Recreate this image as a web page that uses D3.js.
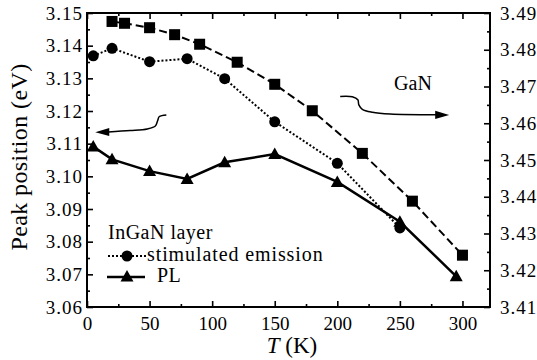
<!DOCTYPE html>
<html>
<head>
  <meta charset="UTF-8">
</head>
<body style="margin:0">
<svg></svg>
<script src="https://d3js.org/d3.v7.min.js"></script>
<script>

let width = 537, height = 360;
let serifFont = "Liberation Serif";

// GaN peak (right axis, squares)
const ganT = [20, 30, 50, 70, 90, 120, 150, 180, 220, 260, 300];
const ganE = [3.4877, 3.4872, 3.4860, 3.4841, 3.4815, 3.4766, 3.4706, 3.4634, 3.4518, 3.4388, 3.4241];

// InGaN stimulated emission (left axis, circles)
const seT = [5, 20, 50, 80, 110, 150, 200, 250];
const seE = [3.1369, 3.1392, 3.1351, 3.1360, 3.1299, 3.1167, 3.1040, 3.0842];

// InGaN PL (left axis, triangles)
const plT = [5, 20, 50, 80, 110, 150, 200, 250, 295];
const plE = [3.1091, 3.1052, 3.1016, 3.0992, 3.1043, 3.1068, 3.0983, 3.0861, 3.0694];

// ticks
const xTicks = [0, 50, 100, 150, 200, 250, 300];
const xMinor = [25, 75, 125, 175, 225, 275];
const yLeftTicks = [3.06, 3.07, 3.08, 3.09, 3.10, 3.11, 3.12, 3.13, 3.14, 3.15];
const yRightTicks = [3.41, 3.42, 3.43, 3.44, 3.45, 3.46, 3.47, 3.48, 3.49];

// annotation arrows, in data units
const leftArrowT = [63.4, 57.8, 56.4, 54.6, 48.2, 34.6, 17.0];
const leftArrowE = [3.1188, 3.1183, 3.1170, 3.1154, 3.1145, 3.1140, 3.1136];
const rightArrowT = [202.3, 212, 216.4, 217.2, 220, 228, 242.3, 279];
const rightArrowE = [3.4673, 3.4672, 3.4664, 3.4650, 3.4638, 3.4630, 3.4625, 3.4623];

let svg = d3.select("svg").attr("width", width).attr("height", height);

let x = d3.scaleLinear().domain([0, 322]).range([87, 490]);
let yL = d3.scaleLinear().domain([3.06, 3.15]).range([307, 13]);
let yR = d3.scaleLinear().domain([3.41, 3.49]).range([307, 13]);

let mid = v => v.slice(0, -1).map((d, i) => +((d + v[i + 1]) / 2).toFixed(3));

function addText(parent, str, size, spacing) {
  return parent.append("text")
    .style("font-family", serifFont)
    .style("font-size", size + "px")
    .style("letter-spacing", (spacing || 0) + "px")
    .text(str);
}

function styleAxis(g) {
  g.attr("font-family", serifFont).attr("font-size", 19);
  g.select(".domain").remove();
  g.selectAll("line").attr("stroke", "black").attr("stroke-width", 1.6);
  g.selectAll("text")
    .style("font-family", serifFont)
    .style("font-size", "19px")
    .attr("fill", "black");
}

// bottom axis
svg.append("g").attr("transform", "translate(0,307)")
  .call(d3.axisBottom(x).tickValues(xTicks).tickSize(-6).tickPadding(10).tickFormat(d3.format("d")))
  .call(styleAxis);
svg.append("g").attr("transform", "translate(0,307)")
  .call(d3.axisBottom(x).tickValues(xMinor).tickSize(-3).tickFormat(""))
  .call(styleAxis);
// top axis
svg.append("g").attr("transform", "translate(0,13)")
  .call(d3.axisTop(x).tickValues(xTicks).tickSize(-6).tickFormat(""))
  .call(styleAxis);
svg.append("g").attr("transform", "translate(0,13)")
  .call(d3.axisTop(x).tickValues(xMinor).tickSize(-3).tickFormat(""))
  .call(styleAxis);
// left axis
svg.append("g").attr("transform", "translate(87,0)")
  .call(d3.axisLeft(yL).tickValues(yLeftTicks).tickSize(-6).tickPadding(4).tickFormat(d3.format(".2f")))
  .call(styleAxis)
  .selectAll("text").style("letter-spacing", "1px");
svg.append("g").attr("transform", "translate(87,0)")
  .call(d3.axisLeft(yL).tickValues(mid(yLeftTicks)).tickSize(-3).tickFormat(""))
  .call(styleAxis);
// right axis
svg.append("g").attr("transform", "translate(490,0)")
  .call(d3.axisRight(yR).tickValues(yRightTicks).tickSize(-6).tickPadding(10).tickFormat(d3.format(".2f")))
  .call(styleAxis)
  .selectAll("text").style("letter-spacing", "1px");
svg.append("g").attr("transform", "translate(490,0)")
  .call(d3.axisRight(yR).tickValues(mid(yRightTicks)).tickSize(-3).tickFormat(""))
  .call(styleAxis);

// frame
svg.append("rect")
  .attr("x", x(0)).attr("y", yL(3.15))
  .attr("width", x(322) - x(0)).attr("height", yL(3.06) - yL(3.15))
  .attr("fill", "none").attr("stroke", "black").attr("stroke-width", 2);

// axis titles
addText(svg, "Peak position (eV)", 24, 0.4)
  .attr("transform", "translate(27,157) rotate(-90)")
  .attr("text-anchor", "middle");

let xt = addText(svg, "", 23)
  .attr("x", 292).attr("y", 353)
  .attr("text-anchor", "middle");
xt.append("tspan").style("font-style", "italic").text("T");
xt.append("tspan").text(" (K)");

// series
let ganData = ganT.map((t, i) => [t, ganE[i]]);
let seData = seT.map((t, i) => [t, seE[i]]);
let plData = plT.map((t, i) => [t, plE[i]]);

let lineR = d3.line().x(d => x(d[0])).y(d => yR(d[1]));
let lineL = d3.line().x(d => x(d[0])).y(d => yL(d[1]));

svg.append("path").datum(ganData).attr("d", lineR)
  .attr("fill", "none").attr("stroke", "black").attr("stroke-width", 2)
  .attr("stroke-dasharray", "8,4");
svg.append("path").datum(seData).attr("d", lineL)
  .attr("fill", "none").attr("stroke", "black").attr("stroke-width", 2)
  .attr("stroke-dasharray", "2,2");
svg.append("path").datum(plData).attr("d", lineL)
  .attr("fill", "none").attr("stroke", "black").attr("stroke-width", 2.5);

svg.append("g").selectAll("rect").data(ganData).enter().append("rect")
  .attr("x", d => x(d[0]) - 5.5).attr("y", d => yR(d[1]) - 5.5)
  .attr("width", 11).attr("height", 11).attr("fill", "black");

svg.append("g").selectAll("circle").data(seData).enter().append("circle")
  .attr("cx", d => x(d[0])).attr("cy", d => yL(d[1])).attr("r", 5.5).attr("fill", "black");

let tri = "M0,-6.5L6.5,5L-6.5,5Z";
svg.append("g").selectAll("path").data(plData).enter().append("path")
  .attr("d", tri)
  .attr("transform", d => `translate(${x(d[0])},${yL(d[1])})`)
  .attr("fill", "black");

// arrows
let curve = d3.line().curve(d3.curveCatmullRom);
let la = leftArrowT.map((t, i) => [x(t), yL(leftArrowE[i])]);
svg.append("path").attr("d", curve(la)).attr("fill", "none").attr("stroke", "black").attr("stroke-width", 1.5);
let lt = la[la.length - 1];
svg.append("path")
  .attr("d", `M${lt[0] - 13},${lt[1] + 0.3}L${lt[0] + 1},${lt[1] - 4}L${lt[0] + 1},${lt[1] + 4.2}Z`)
  .attr("fill", "black");

let ra = rightArrowT.map((t, i) => [x(t), yR(rightArrowE[i])]);
svg.append("path").attr("d", curve(ra)).attr("fill", "none").attr("stroke", "black").attr("stroke-width", 1.5);
let rt = ra[ra.length - 1];
svg.append("path")
  .attr("d", `M${rt[0] + 13},${rt[1] + 0.3}L${rt[0] - 1},${rt[1] - 4}L${rt[0] - 1},${rt[1] + 4.2}Z`)
  .attr("fill", "black");

addText(svg, "GaN", 20).attr("x", 413).attr("y", 89.5).attr("text-anchor", "middle");

// legend
let legend = svg.append("g");
addText(legend, "InGaN layer", 20, 0.5).attr("x", 108).attr("y", 239);
legend.append("line").attr("x1", 108).attr("x2", 146).attr("y1", 256).attr("y2", 256)
  .attr("stroke", "black").attr("stroke-width", 2).attr("stroke-dasharray", "2,2");
legend.append("circle").attr("cx", 127).attr("cy", 256).attr("r", 5.5).attr("fill", "black");
addText(legend, "stimulated emission", 20, 0.9).attr("x", 147).attr("y", 261);
legend.append("line").attr("x1", 107).attr("x2", 145).attr("y1", 277).attr("y2", 277)
  .attr("stroke", "black").attr("stroke-width", 2.5);
legend.append("path").attr("d", tri).attr("transform", "translate(127,276.5)").attr("fill", "black");
addText(legend, "PL", 20, 0.5).attr("x", 157).attr("y", 282);

</script>
</body>
</html>
